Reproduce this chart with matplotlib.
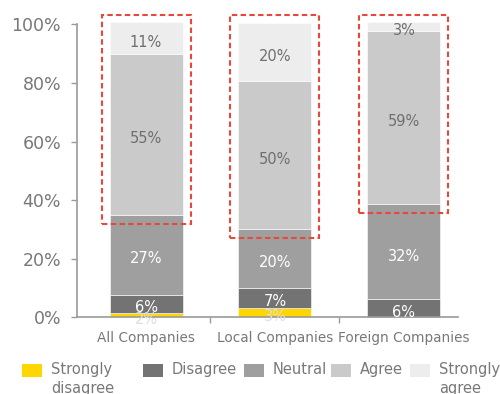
import numpy as np
import matplotlib
matplotlib.use('Agg')
import matplotlib.pyplot as plt
from matplotlib.patches import Rectangle

categories = ['All Companies', 'Local Companies', 'Foreign Companies']
responses = ['Strongly\ndisagree', 'Disagree', 'Neutral', 'Agree', 'Strongly\nagree']

strongly_disagree = [1.6, 3.3, 0.0]
disagree = [6.1, 6.8, 6.1]
neutral = [27.3, 20.0, 32.4]
agree = [55.0, 50.4, 59.2]
strongly_agree = [10.7, 20.0, 3.0]

yticks = [0, 20, 40, 60, 80, 100]

colors = ['#ffd600', '#737373', '#9e9f9e', '#c9cac9', '#ededed']
label_colors = ['#dedede', 'white', 'white', '#6f6f6f', '#6f6f6f']
axis_color = '#9a9a9a'
text_color = '#787878'
box_color = '#e8483c'

fig = plt.figure(figsize=(5, 3.94), dpi=100)
ax = fig.add_axes([0.154, 0.1947, 0.762, 0.7436])

series = [strongly_disagree, disagree, neutral, agree, strongly_agree]
x = np.arange(len(categories))
bar_width = 0.566
bottom = np.zeros(len(categories))
tops = []
for vals, color, tcolor in zip(series, colors, label_colors):
   vals = np.array(vals)
   ax.bar(x, vals, bar_width, bottom=bottom, color=color,
          edgecolor='white', linewidth=0.4, clip_on=False, zorder=2)
   for xi, b, v in zip(x, bottom, vals):
      if v > 0:
         ax.annotate('{0:.0f}%'.format(v), (xi, b + v / 2), xytext=(0, -3),
                     textcoords='offset points', ha='center', va='center',
                     color=tcolor, fontsize=10.5, annotation_clip=False,
                     zorder=4)
   bottom = bottom + vals
   tops.append(bottom.copy())

# dashed boxes around the agree / strongly agree part of each bar
neutral_top = tops[2]
half = 0.345
for xi, nt in zip(x, neutral_top):
   rect = Rectangle((xi - half, nt - 3.0), 2 * half, 103.2 - (nt - 3.0),
                    fill=False, edgecolor=box_color, linewidth=1.5,
                    linestyle=(0, (2.6, 1.6)), clip_on=False, zorder=5)
   ax.add_patch(rect)

ax.set_xlim(-0.535, 2.419)
ax.set_ylim(0, 100)

for side in ['top', 'right']:
   ax.spines[side].set_visible(False)
for side in ['left', 'bottom']:
   ax.spines[side].set_color(axis_color)
   ax.spines[side].set_linewidth(1.2)

ax.set_yticks(yticks)
ax.set_yticklabels(['{0}%'.format(t) for t in yticks])
ax.tick_params(axis='y', length=4.5, width=1.0, color=axis_color, pad=7,
               labelsize=12.5, labelcolor=text_color)

ax.set_xticks(x)
ax.set_xticklabels(categories)
ax.tick_params(axis='x', which='major', length=0, pad=10,
               labelsize=9.8, labelcolor=text_color)
ax.set_xticks([0.5, 1.5], minor=True)
ax.tick_params(axis='x', which='minor', length=4, width=1.0, color=axis_color)

# legend row along the bottom edge
legend_x = [22, 143, 244, 331, 410]
for lx, color, label in zip(legend_x, colors, responses):
   fig.patches.append(Rectangle((lx / 500.0, 1 - 377 / 394.0), 20 / 500.0,
                                13 / 394.0, transform=fig.transFigure,
                                facecolor=color, edgecolor='none'))
   fig.text((lx + 29) / 500.0, 1 - 362 / 394.0, label, ha='left', va='top',
            fontsize=10.5, color=text_color, linespacing=1.3)

fig.savefig('out.png', dpi=100)
